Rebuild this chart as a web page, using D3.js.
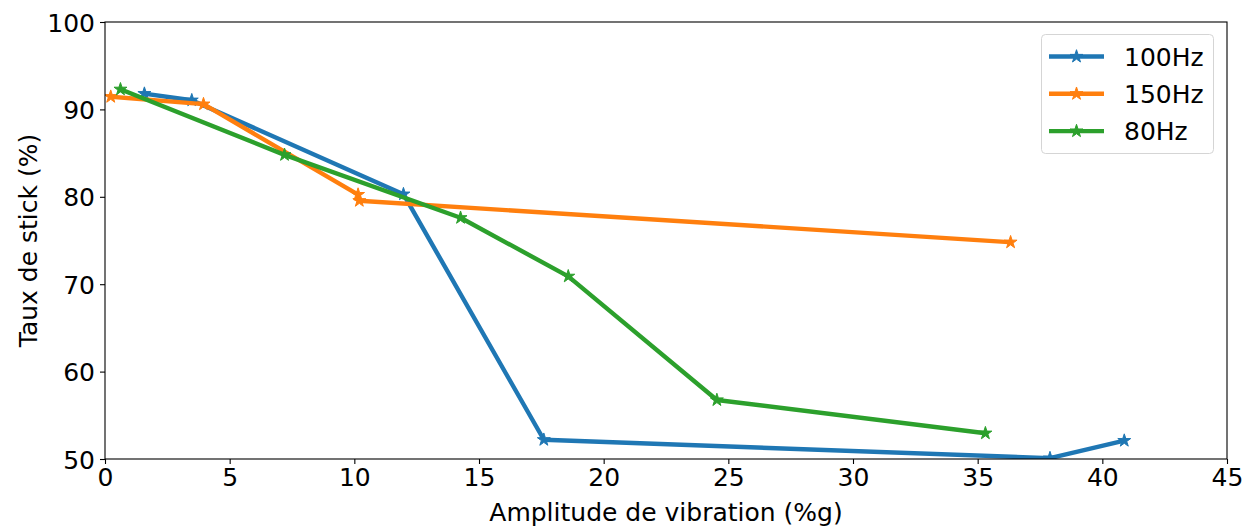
<!DOCTYPE html>
<html>
<head>
<meta charset="utf-8">
<script src="https://cdn.jsdelivr.net/npm/d3@7"></script>
<style>
  body { margin: 0; background: #fff; }
  text { font-family: "DejaVu Sans", sans-serif; fill: #000; }
</style>
</head>
<body>
<div id="chart"></div>
<script>
// data
const seriesNames = ['100Hz', '150Hz', '80Hz'];
const colors = ['#1f77b4', '#ff7f0e', '#2ca02c'];

const x100 = [1.58, 3.48, 11.97, 17.6, 37.9, 40.88];
const y100 = [91.8, 91.05, 80.3, 52.2, 50.1, 52.1];

const x150 = [0.23, 3.95, 10.15, 10.2, 36.32];
const y150 = [91.45, 90.6, 80.25, 79.55, 74.8];

const x80 = [0.62, 7.2, 14.26, 18.58, 24.54, 35.31];
const y80 = [92.3, 84.8, 77.6, 70.9, 56.75, 52.95];

const xTicks = [0, 5, 10, 15, 20, 25, 30, 35, 40, 45];
const yTicks = [50, 60, 70, 80, 90, 100];

const width = 1252, height = 529;
const margin = {top: 22, right: 25, bottom: 70, left: 105};
const fs = '25px';

const svg = d3.select('#chart')
    .append('svg')
    .attr('width', width)
    .attr('height', height);

const x = d3.scaleLinear().domain([0, 45]).range([margin.left, width - margin.right]);
const y = d3.scaleLinear().domain([50, 100]).range([height - margin.bottom, margin.top]);

const series = [
    {name: seriesNames[0], color: colors[0], pts: d3.zip(x100, y100)},
    {name: seriesNames[1], color: colors[1], pts: d3.zip(x150, y150)},
    {name: seriesNames[2], color: colors[2], pts: d3.zip(x80, y80)}
];

// clip so the lines stay inside the axes
svg.append('clipPath').attr('id', 'clip')
    .append('rect')
    .attr('x', margin.left)
    .attr('y', margin.top)
    .attr('width', width - margin.left - margin.right)
    .attr('height', height - margin.top - margin.bottom);

const line = d3.line().x(d => x(d[0])).y(d => y(d[1]));
const star = d3.symbol().type(d3.symbolStar).size(52);

const plot = svg.append('g').attr('clip-path', 'url(#clip)');

series.forEach(s => {
    const g = plot.append('g');
    g.append('path')
        .attr('d', line(s.pts))
        .attr('fill', 'none')
        .attr('stroke', s.color)
        .attr('stroke-width', 4.4)
        .attr('stroke-linejoin', 'round')
        .attr('stroke-linecap', 'square');
    g.selectAll('path.pt')
        .data(s.pts)
        .join('path')
        .attr('class', 'pt')
        .attr('d', star)
        .attr('transform', d => `translate(${x(d[0])},${y(d[1])})`)
        .attr('fill', s.color)
        .attr('stroke', s.color)
        .attr('stroke-width', 1);
});

// axes
const xAxis = svg.append('g')
    .attr('transform', `translate(0,${height - margin.bottom})`)
    .call(d3.axisBottom(x).tickValues(xTicks).tickSize(5).tickPadding(4));
const yAxis = svg.append('g')
    .attr('transform', `translate(${margin.left},0)`)
    .call(d3.axisLeft(y).tickValues(yTicks).tickSize(5).tickPadding(5));

[xAxis, yAxis].forEach(a => {
    a.selectAll('text').style('font-size', fs).attr('fill', '#000');
    a.selectAll('line').attr('stroke', '#000').attr('stroke-width', 1.1);
    a.select('.domain').remove();
});
xAxis.selectAll('text').attr('dy', '0.72em');
yAxis.selectAll('text').attr('dy', '0.36em');

// frame
svg.append('rect')
    .attr('x', margin.left)
    .attr('y', margin.top)
    .attr('width', width - margin.left - margin.right)
    .attr('height', height - margin.top - margin.bottom)
    .attr('fill', 'none')
    .attr('stroke', '#000')
    .attr('stroke-width', 1.1);

// axis titles
svg.append('text')
    .attr('x', (margin.left + width - margin.right) / 2)
    .attr('y', 521)
    .attr('text-anchor', 'middle')
    .style('font-size', fs)
    .text('Amplitude de vibration (%g)');

svg.append('text')
    .attr('transform', `translate(37,${(margin.top + height - margin.bottom) / 2}) rotate(-90)`)
    .attr('text-anchor', 'middle')
    .style('font-size', fs)
    .text('Taux de stick (%)');

// legend
const legend = svg.append('g');
legend.append('rect')
    .attr('x', 1041.5)
    .attr('y', 34.5)
    .attr('width', 172)
    .attr('height', 119)
    .attr('rx', 4)
    .attr('fill', '#fff')
    .attr('fill-opacity', 0.8)
    .attr('stroke', '#d5d5d5')
    .attr('stroke-width', 1);

series.forEach((s, i) => {
    const ly = 56.5 + i * 37.3;
    legend.append('line')
        .attr('x1', 1049).attr('x2', 1104)
        .attr('y1', ly).attr('y2', ly)
        .attr('stroke', s.color)
        .attr('stroke-width', 4.4);
    legend.append('path')
        .attr('d', star())
        .attr('transform', `translate(1076.5,${ly})`)
        .attr('fill', s.color)
        .attr('stroke', s.color);
    legend.append('text')
        .attr('x', 1124)
        .attr('y', ly)
        .attr('dy', '0.36em')
        .style('font-size', fs)
        .text(s.name);
});
</script>
</body>
</html>
